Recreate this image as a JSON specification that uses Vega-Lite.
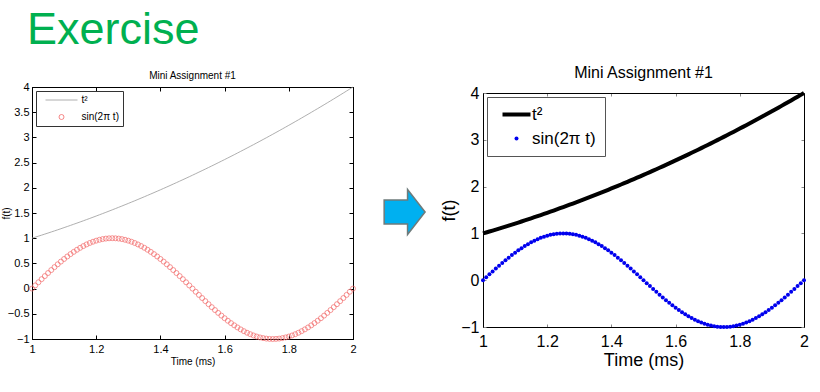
{
  "$schema": "https://vega.github.io/schema/vega-lite/v6.json",
  "background": "white",
  "padding": {"left": 0, "top": 7, "right": 5, "bottom": 0},
  "title": {"text": "Exercise", "anchor": "start", "frame": "group", "dx": -5, "fontSize": 45, "font": "Liberation Sans", "fontWeight": "normal", "color": "#00B050", "offset": 12},
  "config": {"font": "Liberation Sans", "view": {"stroke": null}},
  "spacing": 2,
  "resolve": {"scale": {"x": "independent", "y": "independent", "color": "independent", "shape": "independent"}, "legend": {"color": "independent", "shape": "independent"}},
  "datasets": {
    "d": [
      {"t":1.00,"sq":1.0000,"sn":0},{"t":1.01,"sq":1.0201,"sn":0.0628},{"t":1.02,"sq":1.0404,"sn":0.1253},{"t":1.03,"sq":1.0609,"sn":0.1874},{"t":1.04,"sq":1.0816,"sn":0.2487},{"t":1.05,"sq":1.1025,"sn":0.309},{"t":1.06,"sq":1.1236,"sn":0.3681},{"t":1.07,"sq":1.1449,"sn":0.4258},{"t":1.08,"sq":1.1664,"sn":0.4818},{"t":1.09,"sq":1.1881,"sn":0.5358},
      {"t":1.10,"sq":1.2100,"sn":0.5878},{"t":1.11,"sq":1.2321,"sn":0.6374},{"t":1.12,"sq":1.2544,"sn":0.6845},{"t":1.13,"sq":1.2769,"sn":0.729},{"t":1.14,"sq":1.2996,"sn":0.7705},{"t":1.15,"sq":1.3225,"sn":0.809},{"t":1.16,"sq":1.3456,"sn":0.8443},{"t":1.17,"sq":1.3689,"sn":0.8763},{"t":1.18,"sq":1.3924,"sn":0.9048},{"t":1.19,"sq":1.4161,"sn":0.9298},
      {"t":1.20,"sq":1.4400,"sn":0.9511},{"t":1.21,"sq":1.4641,"sn":0.9686},{"t":1.22,"sq":1.4884,"sn":0.9823},{"t":1.23,"sq":1.5129,"sn":0.9921},{"t":1.24,"sq":1.5376,"sn":0.998},{"t":1.25,"sq":1.5625,"sn":1},{"t":1.26,"sq":1.5876,"sn":0.998},{"t":1.27,"sq":1.6129,"sn":0.9921},{"t":1.28,"sq":1.6384,"sn":0.9823},{"t":1.29,"sq":1.6641,"sn":0.9686},
      {"t":1.30,"sq":1.6900,"sn":0.9511},{"t":1.31,"sq":1.7161,"sn":0.9298},{"t":1.32,"sq":1.7424,"sn":0.9048},{"t":1.33,"sq":1.7689,"sn":0.8763},{"t":1.34,"sq":1.7956,"sn":0.8443},{"t":1.35,"sq":1.8225,"sn":0.809},{"t":1.36,"sq":1.8496,"sn":0.7705},{"t":1.37,"sq":1.8769,"sn":0.729},{"t":1.38,"sq":1.9044,"sn":0.6845},{"t":1.39,"sq":1.9321,"sn":0.6374},
      {"t":1.40,"sq":1.9600,"sn":0.5878},{"t":1.41,"sq":1.9881,"sn":0.5358},{"t":1.42,"sq":2.0164,"sn":0.4818},{"t":1.43,"sq":2.0449,"sn":0.4258},{"t":1.44,"sq":2.0736,"sn":0.3681},{"t":1.45,"sq":2.1025,"sn":0.309},{"t":1.46,"sq":2.1316,"sn":0.2487},{"t":1.47,"sq":2.1609,"sn":0.1874},{"t":1.48,"sq":2.1904,"sn":0.1253},{"t":1.49,"sq":2.2201,"sn":0.0628},
      {"t":1.50,"sq":2.2500,"sn":0},{"t":1.51,"sq":2.2801,"sn":-0.0628},{"t":1.52,"sq":2.3104,"sn":-0.1253},{"t":1.53,"sq":2.3409,"sn":-0.1874},{"t":1.54,"sq":2.3716,"sn":-0.2487},{"t":1.55,"sq":2.4025,"sn":-0.309},{"t":1.56,"sq":2.4336,"sn":-0.3681},{"t":1.57,"sq":2.4649,"sn":-0.4258},{"t":1.58,"sq":2.4964,"sn":-0.4818},{"t":1.59,"sq":2.5281,"sn":-0.5358},
      {"t":1.60,"sq":2.5600,"sn":-0.5878},{"t":1.61,"sq":2.5921,"sn":-0.6374},{"t":1.62,"sq":2.6244,"sn":-0.6845},{"t":1.63,"sq":2.6569,"sn":-0.729},{"t":1.64,"sq":2.6896,"sn":-0.7705},{"t":1.65,"sq":2.7225,"sn":-0.809},{"t":1.66,"sq":2.7556,"sn":-0.8443},{"t":1.67,"sq":2.7889,"sn":-0.8763},{"t":1.68,"sq":2.8224,"sn":-0.9048},{"t":1.69,"sq":2.8561,"sn":-0.9298},
      {"t":1.70,"sq":2.8900,"sn":-0.9511},{"t":1.71,"sq":2.9241,"sn":-0.9686},{"t":1.72,"sq":2.9584,"sn":-0.9823},{"t":1.73,"sq":2.9929,"sn":-0.9921},{"t":1.74,"sq":3.0276,"sn":-0.998},{"t":1.75,"sq":3.0625,"sn":-1},{"t":1.76,"sq":3.0976,"sn":-0.998},{"t":1.77,"sq":3.1329,"sn":-0.9921},{"t":1.78,"sq":3.1684,"sn":-0.9823},{"t":1.79,"sq":3.2041,"sn":-0.9686},
      {"t":1.80,"sq":3.2400,"sn":-0.9511},{"t":1.81,"sq":3.2761,"sn":-0.9298},{"t":1.82,"sq":3.3124,"sn":-0.9048},{"t":1.83,"sq":3.3489,"sn":-0.8763},{"t":1.84,"sq":3.3856,"sn":-0.8443},{"t":1.85,"sq":3.4225,"sn":-0.809},{"t":1.86,"sq":3.4596,"sn":-0.7705},{"t":1.87,"sq":3.4969,"sn":-0.729},{"t":1.88,"sq":3.5344,"sn":-0.6845},{"t":1.89,"sq":3.5721,"sn":-0.6374},
      {"t":1.90,"sq":3.6100,"sn":-0.5878},{"t":1.91,"sq":3.6481,"sn":-0.5358},{"t":1.92,"sq":3.6864,"sn":-0.4818},{"t":1.93,"sq":3.7249,"sn":-0.4258},{"t":1.94,"sq":3.7636,"sn":-0.3681},{"t":1.95,"sq":3.8025,"sn":-0.309},{"t":1.96,"sq":3.8416,"sn":-0.2487},{"t":1.97,"sq":3.8809,"sn":-0.1874},{"t":1.98,"sq":3.9204,"sn":-0.1253},{"t":1.99,"sq":3.9601,"sn":-0.0628},
      {"t":2.00,"sq":4.0000,"sn":0}
    ]
  },
  "hconcat": [
    {
      "width": 321,
      "height": 252,
      "title": {"text": "Mini Assignment #1", "fontSize": 10, "fontWeight": "normal", "color": "black", "offset": 0},
      "data": {"name": "d"},
      "transform": [{"fold": ["sq", "sn"], "as": ["series", "v"]}],
      "view": {"stroke": "black", "strokeWidth": 1},
      "layer": [
        {
          "transform": [{"filter": "datum.series === 'sq'"}],
          "mark": {"type": "line", "strokeWidth": 0.8},
          "encoding": {
            "x": {"field": "t", "type": "quantitative", "scale": {"domain": [1, 2], "nice": false, "zero": false},
              "axis": {"orient": "bottom", "values": [1, 1.2, 1.4, 1.6, 1.8, 2], "format": "~g", "title": "Time (ms)", "titleFontSize": 10, "titleFontWeight": "normal", "titleColor": "black", "labelFontSize": 11, "labelColor": "black", "labelFlush": false, "labelOverlap": false, "domainColor": "black", "tickColor": "black", "tickSize": -4, "labelPadding": 8, "titlePadding": 2, "grid": false}},
            "y": {"field": "v", "type": "quantitative", "scale": {"domain": [-1, 4], "nice": false, "zero": false},
              "axis": {"orient": "left", "values": [-1, -0.5, 0, 0.5, 1, 1.5, 2, 2.5, 3, 3.5, 4], "format": "~g", "title": "f(t)", "titleFontSize": 10, "titleFontWeight": "normal", "titleColor": "black", "labelFontSize": 11, "labelColor": "black", "labelFlush": false, "labelOverlap": false, "domainColor": "black", "tickColor": "black", "tickSize": -4, "labelPadding": 7, "titlePadding": -4, "grid": false}},
            "color": {"field": "series", "type": "nominal", "scale": {"domain": ["sq", "sn"], "range": ["#9a9a9a", "#f26a6a"]},
              "legend": {"title": null, "orient": "top-left", "offset": 4, "strokeColor": "#333333", "fillColor": "white", "padding": 4, "rowPadding": 7, "labelFontSize": 10, "labelColor": "black", "symbolSize": 25, "symbolOffset": 16.5, "labelOffset": 15, "symbolStrokeWidth": 0.8, "labelExpr": "datum.value === 'sq' ? 't²' : 'sin(2π t)'"}}
          }
        },
        {
          "transform": [{"filter": "datum.series === 'sn'"}],
          "mark": {"type": "point", "filled": false, "strokeWidth": 0.7, "opacity": 1, "size": 25},
          "encoding": {
            "x": {"field": "t", "type": "quantitative", "axis": {"orient": "top", "values": [1, 1.2, 1.4, 1.6, 1.8, 2], "labels": false, "title": null, "domainColor": "black", "tickColor": "black", "tickSize": -4, "grid": false}},
            "y": {"field": "v", "type": "quantitative", "axis": {"orient": "right", "values": [-1, -0.5, 0, 0.5, 1, 1.5, 2, 2.5, 3, 3.5, 4], "labels": false, "title": null, "domainColor": "black", "tickColor": "black", "tickSize": -4, "grid": false}},
            "color": {"field": "series", "type": "nominal", "scale": {"domain": ["sq", "sn"], "range": ["#9a9a9a", "#f26a6a"]}},
            "shape": {"field": "series", "type": "nominal", "scale": {"domain": ["sq", "sn"], "range": ["M-6.4,0H6.4", "circle"]}}
          }
        }
      ],
      "resolve": {"axis": {"x": "independent", "y": "independent"}}
    },
    {
      "width": 78,
      "height": 250,
      "data": {"values": [{}]},
      "mark": {"type": "point", "shape": "M-0.66,-0.53L0.38,-0.53L0.38,-1L1.16,0L0.38,1L0.38,0.53L-0.66,0.53Z", "size": 2025, "filled": true, "fill": "#00B0F0", "stroke": "#6E7B7B", "strokeWidth": 1.5, "opacity": 1},
      "encoding": {}
    },
    {
      "spacing": -27,
      "vconcat": [
        {
          "width": 321,
          "height": 1,
          "data": {"values": [{}]},
          "mark": {"type": "point", "opacity": 0},
          "encoding": {}
        },
        {
          "width": 321,
          "height": 234,
          "title": {"text": "Mini Assignment #1", "fontSize": 16, "fontWeight": "normal", "color": "black", "offset": 4},
          "data": {"name": "d"},
          "transform": [{"fold": ["sq", "sn"], "as": ["series", "v"]}],
          "view": {"stroke": "black", "strokeWidth": 1},
          "layer": [
            {
              "transform": [{"filter": "datum.series === 'sq'"}],
              "mark": {"type": "line", "strokeWidth": 4},
              "encoding": {
                "x": {"field": "t", "type": "quantitative", "scale": {"domain": [1, 2], "nice": false, "zero": false},
                  "axis": {"orient": "bottom", "values": [1, 1.2, 1.4, 1.6, 1.8, 2], "format": "~g", "title": "Time (ms)", "titleFontSize": 18, "titleFontWeight": "normal", "titleColor": "black", "labelFontSize": 16, "labelColor": "black", "labelFlush": false, "labelOverlap": false, "domainColor": "black", "tickColor": "#888888", "tickSize": -3, "labelPadding": 9, "titlePadding": 2, "grid": false}},
                "y": {"field": "v", "type": "quantitative", "scale": {"domain": [-1, 4], "nice": false, "zero": false},
                  "axis": {"orient": "left", "values": [-1, 0, 1, 2, 3, 4], "format": "~g", "title": "f(t)", "titleFontSize": 18, "titleFontWeight": "normal", "titleColor": "black", "labelFontSize": 16, "labelColor": "black", "labelFlush": false, "labelOverlap": false, "domainColor": "black", "tickColor": "#888888", "tickSize": -3, "labelPadding": 7, "titlePadding": 2, "grid": false}},
                "color": {"field": "series", "type": "nominal", "scale": {"domain": ["sq", "sn"], "range": ["black", "#0000ee"]},
                  "legend": {"title": null, "orient": "none", "legendX": 4, "legendY": 10, "strokeColor": "#555555", "fillColor": "white", "padding": 9, "rowPadding": 6, "labelFontSize": 17, "labelColor": "black", "symbolSize": 16, "symbolOffset": 12, "labelOffset": 7, "labelExpr": "datum.value === 'sq' ? 't²' : 'sin(2π t)'",
                    "encode": {
                      "legend": {"update": {"stroke": {"value": "#555555"}, "strokeWidth": {"value": 1}, "fill": {"value": "white"}}},
                      "symbols": {"update": {"strokeWidth": {"signal": "datum.value === 'sq' ? 4 : 0"}, "stroke": {"signal": "datum.value === 'sq' ? 'black' : '#0000ee'"}}}}}}
              }
            },
            {
              "transform": [{"filter": "datum.series === 'sn'"}],
              "mark": {"type": "point", "filled": true, "opacity": 1, "size": 16},
              "encoding": {
                "x": {"field": "t", "type": "quantitative", "axis": {"orient": "top", "values": [1, 1.2, 1.4, 1.6, 1.8, 2], "labels": false, "title": null, "domainColor": "black", "tickColor": "#888888", "tickSize": -3, "grid": false}},
                "y": {"field": "v", "type": "quantitative", "axis": {"orient": "right", "values": [-1, 0, 1, 2, 3, 4], "labels": false, "title": null, "domainColor": "black", "tickColor": "#888888", "tickSize": -3, "grid": false}},
                "color": {"field": "series", "type": "nominal", "scale": {"domain": ["sq", "sn"], "range": ["black", "#0000ee"]}},
                "shape": {"field": "series", "type": "nominal", "scale": {"domain": ["sq", "sn"], "range": ["M-7,0H7", "circle"]}}
              }
            }
          ],
          "resolve": {"axis": {"x": "independent", "y": "independent"}}
        }
      ]
    }
  ]
}
